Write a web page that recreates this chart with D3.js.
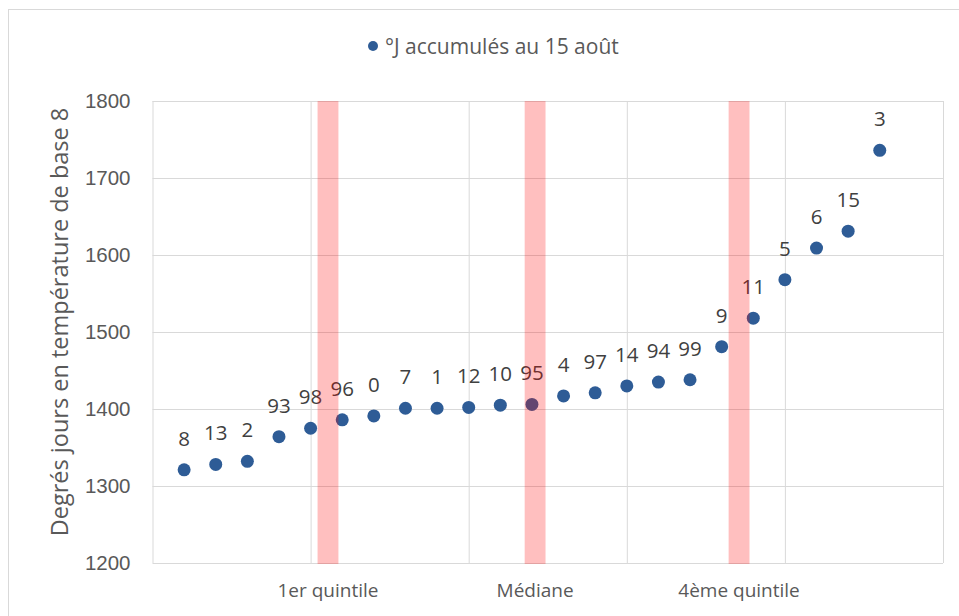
<!DOCTYPE html>
<html>
<head>
<meta charset="utf-8">
<script src="https://cdn.jsdelivr.net/npm/d3@7"></script>
<style>
  html, body { margin: 0; padding: 0; background: #fff; }
  svg { display: block; font-family: "Open Sans", "Noto Sans", sans-serif; }
</style>
</head>
<body>
<svg id="chart" width="959" height="616"></svg>
<script>
// ---- Data ----
const positions = [1,2,3,4,5,6,7,8,9,10,11,12,13,14,15,16,17,18,19,20,21,22,23];
const pointLabels = ["8","13","2","93","98","96","0","7","1","12","10","95","4","97","14","94","99","9","11","5","6","15","3"];
const degreeDays = [1321,1328,1332,1364,1375,1386,1391,1401,1401,1402,1405,1406,1417,1421,1430,1435,1438,1481,1518,1568,1609,1631,1736];
const quantileNames = ["1er quintile","Médiane","4ème quintile"];
const quantilePositions = [5.55, 12.1, 18.55];
const yTicks = [1200,1300,1400,1500,1600,1700,1800];
const xGridTicks = [0,5,10,15,20,25];
const seriesName = "°J accumulés au 15 août";
const yTitle = "Degrés jours en température de base 8";

// ---- Layout ----
const svg = d3.select("#chart");
const pLeft = 152.5, pRight = 943, pTop = 101, pBottom = 563;
const x = d3.scaleLinear().domain([0, 25]).range([pLeft, pRight]);
const y = d3.scaleLinear().domain([1200, 1800]).range([pBottom, pTop]);
const gridColor = "#d9d9d9";
const textColor = "#595959";
const pointColor = "#2e5c96";

// chart frame
svg.append("rect")
  .attr("x", 8.5).attr("y", 9.5).attr("width", 970).attr("height", 640)
  .attr("fill", "none").attr("stroke", gridColor).attr("stroke-width", 1);

// horizontal gridlines via axis
const yAxis = d3.axisLeft(y).tickValues(yTicks).tickSize(-(pRight - pLeft)).tickPadding(22).tickFormat(d3.format("d"));
const gy = svg.append("g").attr("transform", `translate(${pLeft},0)`).call(yAxis);
gy.select(".domain").remove();
gy.selectAll(".tick line").attr("stroke", gridColor).attr("stroke-width", 1);
gy.selectAll(".tick text").attr("fill", textColor).style("font-size", "20.5px");

// vertical gridlines via axis
const xAxis = d3.axisBottom(x).tickValues(xGridTicks).tickSize(-(pBottom - pTop)).tickFormat("");
const gx = svg.append("g").attr("transform", `translate(0,${pBottom})`).call(xAxis);
gx.select(".domain").remove();
gx.selectAll(".tick line").attr("stroke", gridColor).attr("stroke-width", 1);

// category labels for quantiles
svg.append("g").selectAll("text")
  .data(quantileNames)
  .join("text")
  .attr("x", (d, i) => x(quantilePositions[i]))
  .attr("y", 597)
  .attr("text-anchor", "middle")
  .attr("fill", textColor)
  .style("font-size", "19px")
  .text(d => d);

// points
svg.append("g").selectAll("circle")
  .data(degreeDays)
  .join("circle")
  .attr("cx", (d, i) => x(positions[i]))
  .attr("cy", d => y(d))
  .attr("r", 6.5)
  .attr("fill", pointColor);

// point labels
svg.append("g").selectAll("text")
  .data(degreeDays)
  .join("text")
  .attr("x", (d, i) => x(positions[i]))
  .attr("y", d => y(d) - 24)
  .attr("text-anchor", "middle")
  .attr("fill", "#404040")
  .style("font-size", "20.5px")
  .text((d, i) => pointLabels[i]);

// quantile bars (semi-transparent, drawn on top)
const barHalf = 0.33;
svg.append("g").selectAll("rect")
  .data(quantilePositions)
  .join("rect")
  .attr("x", d => x(d - barHalf))
  .attr("width", d => x(d + barHalf) - x(d - barHalf))
  .attr("y", pTop)
  .attr("height", pBottom - pTop + 1)
  .attr("fill", "#ff0000")
  .attr("fill-opacity", 0.25);

// legend
const legend = svg.append("g");
legend.append("circle").attr("cx", 373).attr("cy", 46).attr("r", 5).attr("fill", pointColor);
legend.append("text").attr("x", 385).attr("y", 54).attr("fill", textColor)
  .style("font-size", "21px").text(seriesName);

// y title
svg.append("text")
  .attr("transform", `translate(68,${(pTop + pBottom) / 2 - 10}) rotate(-90)`)
  .attr("text-anchor", "middle")
  .attr("fill", textColor)
  .style("font-size", "23.5px")
  .text(yTitle);
</script>
</body>
</html>
